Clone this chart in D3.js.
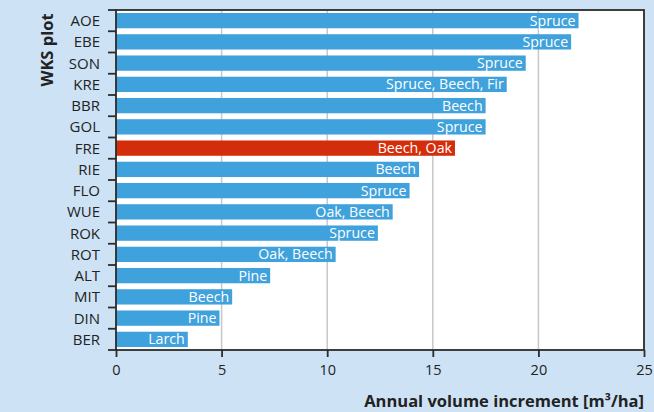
<!DOCTYPE html>
<html><head><meta charset="utf-8">
<script src="https://cdn.jsdelivr.net/npm/d3@7"></script>
<style>
body{margin:0;background:#cde3f5;}
svg{display:block;font-family:"Open Sans",sans-serif;}
</style></head><body>
<svg id="c" width="654" height="412"></svg>
<script>
const plots = ["AOE","EBE","SON","KRE","BBR","GOL","FRE","RIE","FLO","WUE","ROK","ROT","ALT","MIT","DIN","BER"];
const increments = [21.9,21.55,19.4,18.5,17.5,17.5,16.05,14.35,13.9,13.1,12.4,10.4,7.3,5.5,4.9,3.4];
const species = ["Spruce","Spruce","Spruce","Spruce, Beech, Fir","Beech","Spruce","Beech, Oak","Beech","Spruce","Oak, Beech","Spruce","Oak, Beech","Pine","Beech","Pine","Larch"];
const highlight = ["FRE"];
const xTicks = [0,5,10,15,20,25];

const svg = d3.select("#c");
const m = {l:116, r:644, t:10, b:350};
const x = d3.scaleLinear().domain([0,25]).range([m.l, m.r]);
const y = d3.scaleBand().domain(plots).range([m.t, m.b]).paddingInner(0.28).paddingOuter(0.14);

svg.append("rect").attr("x",m.l).attr("y",m.t).attr("width",m.r-m.l).attr("height",m.b-m.t).attr("fill","#fff");

svg.append("g").selectAll("line").data(xTicks.filter(d=>d>0&&d<25)).join("line")
  .attr("x1",d=>x(d)).attr("x2",d=>x(d)).attr("y1",m.t).attr("y2",m.b)
  .attr("stroke","#c8c8c8").attr("stroke-width",1.5);

svg.append("g").selectAll("rect").data(plots).join("rect")
  .attr("x",x(0)).attr("y",d=>y(d)).attr("height",y.bandwidth())
  .attr("width",(d,i)=>x(increments[i])-x(0))
  .attr("fill",d=>highlight.includes(d)?"#d42d0b":"#3fa2dc");

svg.append("g").selectAll("text").data(plots).join("text")
  .attr("x",(d,i)=>x(increments[i])-3).attr("y",d=>y(d)+y.bandwidth()/2)
  .attr("dy","0.36em").attr("text-anchor","end").attr("fill","#fff")
  .attr("font-size",14.2).text((d,i)=>species[i]);

// frame
svg.append("rect").attr("x",m.l).attr("y",m.t).attr("width",m.r-m.l).attr("height",m.b-m.t)
  .attr("fill","none").attr("stroke","#2b2b2b").attr("stroke-width",1.8);

// y axis ticks at category boundaries
const step = (m.b-m.t)/plots.length;
const bounds = d3.range(plots.length+1).map(i=>m.t+i*step);
svg.append("g").selectAll("line").data(bounds).join("line")
  .attr("x1",m.l-8).attr("x2",m.l).attr("y1",d=>d).attr("y2",d=>d)
  .attr("stroke","#2b2b2b").attr("stroke-width",1.8);
svg.append("g").selectAll("text").data(plots).join("text")
  .attr("x",100).attr("y",(d,i)=>m.t+(i+0.5)*step).attr("dy","0.36em")
  .attr("text-anchor","end").attr("fill","#222").attr("font-size",15).text(d=>d);

// x axis
const xa = svg.append("g").attr("transform",`translate(0,${m.b})`)
  .call(d3.axisBottom(x).tickValues(xTicks).tickSize(7).tickPadding(8));
xa.select(".domain").remove();
xa.selectAll("line").attr("stroke","#2b2b2b").attr("stroke-width",1.8);
xa.selectAll("text").attr("font-size",14.5).attr("fill","#222").attr("font-family","Open Sans, sans-serif");

svg.append("text").attr("x",644).attr("y",407).attr("text-anchor","end")
  .attr("font-size",16.5).attr("font-weight","bold").attr("fill","#222")
  .text("Annual volume increment [m³/ha]");
svg.append("text").attr("transform","translate(53,50) rotate(-90)").attr("text-anchor","middle")
  .attr("font-size",16.5).attr("font-weight","bold").attr("fill","#222").text("WKS plot");
</script></body></html>
